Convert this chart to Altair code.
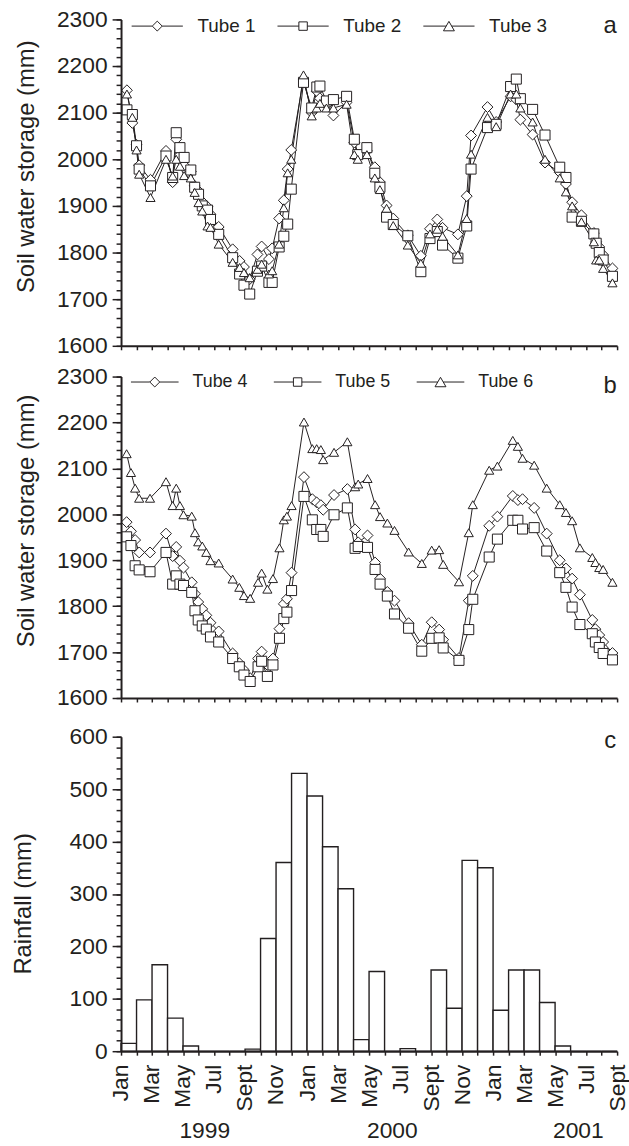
import json
import altair as alt
import pandas as pd

# ---------------- data (x = months since 1 Jan 1999) ----------------
t_a = [0.38, 0.73, 1.0, 1.17, 1.9, 2.9, 3.33, 3.56, 3.8, 4.07,
       4.5, 4.75, 5.0, 5.24, 5.58, 5.77, 6.3, 7.2, 7.65, 7.93,
       8.3, 8.8, 9.07, 9.54, 9.75, 10.2, 10.5, 10.75, 10.98, 11.77,
       12.3, 12.63, 12.83, 13.25, 13.7, 14.55, 15.05, 15.27, 15.86, 16.37,
       16.7, 17.13, 17.56, 18.5, 19.34, 19.93, 20.4, 20.74, 21.73, 22.3,
       22.58, 23.64, 24.2, 25.13, 25.5, 25.76, 26.55, 27.35, 28.3, 28.7,
       29.1, 29.7, 30.5, 30.65, 30.85, 31.1, 31.7]

tube1 = [2148, 2078, 2031, 1987, 1956, 2018, 1951, 2043, 2009, 1987,
         1974, 1943, 1932, 1909, 1898, 1882, 1855, 1807, 1782, 1769,
         1743, 1796, 1813, 1786, 1809, 1873, 1912, 1979, 2020, 2172,
         2100, 2146, 2131, 2117, 2094, 2122, 2036, 2007, 2018, 1983,
         1951, 1901, 1873, 1837, 1793, 1851, 1871, 1853, 1839, 1921,
         2051, 2112, 2080, 2135, 2128, 2085, 2053, 1993, 1972, 1947,
         1908, 1880, 1842, 1823, 1812, 1795, 1766]

tube2 = [2106, 2096, 2029, 1979, 1943, 2007, 1961, 2057, 2025, 2004,
         1977, 1940, 1925, 1900, 1891, 1871, 1839, 1789, 1754, 1730,
         1711, 1760, 1771, 1736, 1736, 1812, 1835, 1861, 1936, 2165,
         2110, 2155, 2157, 2125, 2128, 2135, 2043, 2010, 2025, 1970,
         1940, 1876, 1860, 1836, 1759, 1830, 1845, 1816, 1788, 1857,
         1979, 2068, 2075, 2156, 2172, 2130, 2107, 2052, 1983, 1961,
         1876, 1867, 1840, 1820, 1800, 1784, 1749]

tube3 = [2140, 2090, 2020, 1968, 1918, 2000, 1964, 2000, 1985, 1965,
         1960, 1929, 1907, 1889, 1857, 1854, 1818, 1779, 1768, 1757,
         1746, 1764, 1775, 1754, 1761, 1818, 1896, 1971, 2000, 2181,
         2093, 2110, 2120, 2110, 2110, 2118, 2010, 2000, 2010, 1960,
         1935, 1895, 1858, 1816, 1777, 1840, 1850, 1835, 1795, 1873,
         2011, 2090, 2070, 2140, 2140, 2110, 2080, 2000, 1960, 1930,
         1900, 1866, 1823, 1784, 1784, 1766, 1735]

t_b = [0.36, 0.64, 0.91, 1.17, 1.87, 2.9, 3.33, 3.56, 3.8, 4.03,
       4.56, 4.77, 4.98, 5.24, 5.5, 5.77, 6.3, 7.2, 7.63, 7.93,
       8.33, 8.84, 9.07, 9.44, 9.8, 10.22, 10.5, 10.7, 11.0, 11.8,
       12.34, 12.62, 12.89, 13.04, 13.74, 14.6, 15.1, 15.3, 15.9, 16.39,
       16.71, 17.18, 17.64, 18.55, 19.4, 20.04, 20.52, 20.78, 21.8, 22.43,
       22.69, 23.75, 24.28, 25.27, 25.6, 25.9, 26.65, 27.46, 28.3, 28.7,
       29.1, 29.6, 30.4, 30.6, 30.85, 31.1, 31.7]

tube4 = [1983, 1963, 1944, 1917, 1917, 1958, 1909, 1929, 1899, 1884,
         1852, 1827, 1809, 1794, 1780, 1764, 1745, 1697, 1676, 1661,
         1643, 1686, 1701, 1672, 1686, 1751, 1805, 1816, 1873, 2081,
         2033, 2026, 2020, 2010, 2042, 2055, 1967, 1939, 1954, 1895,
         1860, 1831, 1812, 1763, 1716, 1765, 1749, 1727, 1687, 1812,
         1866, 1975, 1995, 2040, 2031, 2033, 2014, 1958, 1900, 1882,
         1860, 1825, 1770, 1750, 1737, 1722, 1698]

tube5 = [1951, 1932, 1888, 1879, 1875, 1917, 1848, 1866, 1848, 1845,
         1830, 1790, 1770, 1757, 1750, 1733, 1722, 1686, 1668, 1650,
         1636, 1668, 1680, 1647, 1672, 1730, 1773, 1787, 1834, 2039,
         1988, 1967, 1967, 1952, 1999, 2014, 1926, 1930, 1928, 1880,
         1848, 1822, 1783, 1752, 1702, 1730, 1731, 1709, 1682, 1749,
         1815, 1907, 1946, 1987, 1987, 1968, 1971, 1920, 1873, 1841,
         1798, 1760, 1740, 1722, 1710, 1697, 1683]

tube6 = [2132, 2091, 2057, 2035, 2035, 2071, 2019, 2057, 2019, 1999,
         1996, 1960, 1940, 1931, 1917, 1899, 1894, 1859, 1841, 1823,
         1817, 1852, 1872, 1837, 1860, 1927, 1988, 1996, 2019, 2201,
         2143, 2143, 2141, 2119, 2135, 2158, 2060, 2066, 2078, 2021,
         1995, 1981, 1965, 1918, 1893, 1922, 1923, 1891, 1853, 1960,
         2021, 2096, 2105, 2161, 2148, 2122, 2107, 2057, 2021, 2004,
         1986, 1927, 1906, 1895, 1884, 1880, 1852]

names_a = ["Tube 1", "Tube 2", "Tube 3"]
names_b = ["Tube 4", "Tube 5", "Tube 6"]

rain_month = list(range(32))
rainfall = [15, 98, 165, 63, 10, 0, 0, 0, 4, 215, 360, 530,
            487, 390, 310, 22, 152, 0, 5, 0, 155, 82, 364, 350,
            78, 155, 155, 93, 10, 0, 0, 0]

month_labels = ["Jan", "Mar", "May", "Jul", "Sept", "Nov",
                "Jan", "Mar", "May", "Jul", "Sept", "Nov",
                "Jan", "Mar", "May", "Jul", "Sept"]
years = ["1999", "2000", "2001"]
year_pos = [5.4, 17.5, 29.5]

# ---------------- styling ----------------
FONT = "Liberation Sans"
INK = "#231f20"
W = 500
x_ticks = list(range(0, 33))
x_scale = alt.Scale(domain=[0, 32], nice=False, zero=False)
label_expr = "datum.value % 2 == 0 ? " + json.dumps(month_labels) + "[datum.value / 2] : ''"


def long_df(t, names, series):
    rows = []
    for name, vals in zip(names, series):
        for tt, v in zip(t, vals):
            rows.append({"t": tt, "v": v, "tube": name})
    return pd.DataFrame(rows)


def legend_paths(half):
    h = str(half)
    return [
        f"M-{h},0L-1,0M1,0L{h},0M-1,0L0,-1L1,0L0,1Z",
        f"M-{h},0L-0.85,0M0.85,0L{h},0M-0.85,-0.85L0.85,-0.85L0.85,0.85L-0.85,0.85Z",
        f"M-{h},0L-0.55,0M0.55,0L{h},0M0,-0.95L1.1,0.95L-1.1,0.95Z",
    ]


def ab_x_axis():
    return alt.Axis(values=x_ticks, labels=False, title=None, tickSize=4,
                    grid=False, zindex=1)


def tube_panel(t, names, series, height, title_y, letter, letter_y,
               lg_x, lg_y, lg_font, lg_offset, lg_pad, lg_half):
    df = long_df(t, names, series)
    yscale = alt.Scale(domain=[1600, 2300], nice=False, zero=False)
    y_major = alt.Axis(values=list(range(1600, 2301, 100)), format="d", tickSize=9,
                       labelPadding=5, title="Soil water storage (mm)",
                       titleX=-95, titleY=title_y, titleAngle=270,
                       titleAlign="center", titleBaseline="middle",
                       orient="left", grid=False, zindex=1)
    y_minor = alt.Axis(values=list(range(1600, 2301, 20)), tickSize=5,
                       labels=False, domain=False, title=None,
                       orient="left", grid=False, zindex=1)
    lines = alt.Chart(df).mark_line(color=INK, strokeWidth=1).encode(
        x=alt.X("t:Q", scale=x_scale, axis=ab_x_axis()),
        y=alt.Y("v:Q", scale=yscale, axis=y_major),
        detail="tube:N",
    )
    points = alt.Chart(df).mark_point(
        filled=True, fill="white", stroke=INK, strokeWidth=1, opacity=1
    ).encode(
        x=alt.X("t:Q", axis=ab_x_axis()),
        y=alt.Y("v:Q", axis=y_minor),
        shape=alt.Shape("tube:N", scale=alt.Scale(domain=names,
                        range=["diamond", "square", "triangle-up"]), legend=None),
        size=alt.Size("tube:O", scale=alt.Scale(domain=names, range=[120, 85, 125]),
                      legend=None),
    )
    legend_layer = alt.Chart(df).transform_filter("false").mark_point(
        filled=False, color=INK, strokeWidth=1, opacity=1
    ).encode(
        x=alt.X("t:Q", axis=ab_x_axis()),
        y=alt.Y("v:Q", axis=None),
        shape=alt.Shape("tube:N", scale=alt.Scale(domain=names, range=legend_paths(lg_half)),
                        legend=alt.Legend(
                            title=None, orient="none", direction="horizontal",
                            legendX=lg_x, legendY=lg_y, padding=0,
                            labelFont=FONT, labelFontSize=lg_font, labelColor=INK,
                            labelOffset=lg_offset, columnPadding=lg_pad,
                            symbolSize=100, symbolStrokeWidth=1,
                            symbolStrokeColor=INK, symbolOpacity=1,
                        )),
    )
    tag = alt.Chart(pd.DataFrame({"lab": [letter]})).mark_text(
        font=FONT, fontSize=24, color=INK, baseline="middle", align="center"
    ).encode(text="lab:N", x=alt.value(493), y=alt.value(letter_y))
    return alt.layer(lines, points, legend_layer, tag).resolve_scale(
        shape="independent", size="independent"
    ).resolve_axis(y="independent").resolve_legend(shape="independent").properties(
        width=W, height=height)


panel_a = tube_panel(t_a, names_a, [tube1, tube2, tube3], 329, 148, "a", 7,
                     27, -3, 19, 31, 19, 5.16)
panel_b = tube_panel(t_b, names_b, [tube4, tube5, tube6], 324, 145, "b", 10,
                     25, -3.5, 18, 29, 24, 4.8)

# ---------------- rainfall panel ----------------
rain_df = pd.DataFrame({"m": rain_month, "rain": rainfall})
HC = 325
rscale = alt.Scale(domain=[0, 600], nice=False, zero=True, range=[HC, 8])


def c_x_axis():
    return alt.Axis(values=x_ticks, labelExpr=label_expr, labelAngle=-90,
                    labelOverlap=False, labelFlush=False, labelPadding=9,
                    tickSize=4, title=None, grid=False, zindex=1)


bars = alt.Chart(rain_df).transform_calculate(m2="datum.m + 1").mark_bar(
    fill="white", stroke=INK, strokeWidth=1.4
).encode(
    x=alt.X("m:Q", scale=x_scale, axis=c_x_axis()),
    x2="m2:Q",
    y=alt.Y("rain:Q", scale=rscale,
            axis=alt.Axis(values=list(range(0, 601, 100)), format="d", tickSize=9,
                          labelPadding=5,
                          title="Rainfall (mm)", titleX=-98, titleY=176,
                          titleAngle=270, titleAlign="center", titleBaseline="middle",
                          orient="left", grid=False, zindex=1)),
    y2=alt.datum(0),
)
bars_minor = alt.Chart(rain_df).transform_calculate(m2="datum.m + 1").mark_bar(
    opacity=0
).encode(
    x=alt.X("m:Q", axis=c_x_axis()),
    x2="m2:Q",
    y=alt.Y("rain:Q", axis=alt.Axis(values=list(range(0, 601, 20)), tickSize=5,
                                     labels=False, domain=False, title=None,
                                     orient="left", grid=False, zindex=1)),
    y2=alt.datum(0),
)
year_text = alt.Chart(pd.DataFrame({"year": years, "pos": year_pos})).mark_text(
    font=FONT, fontSize=23, color=INK, baseline="middle", align="center"
).encode(x=alt.X("pos:Q", axis=c_x_axis()), y=alt.value(405), text="year:N")
tag_c = alt.Chart(pd.DataFrame({"lab": ["c"]})).mark_text(
    font=FONT, fontSize=24, color=INK, baseline="middle", align="center"
).encode(text="lab:N", x=alt.value(493), y=alt.value(12))

panel_c = alt.layer(bars, bars_minor, year_text, tag_c).resolve_axis(
    y="independent").properties(width=W, height=HC)

chart = alt.vconcat(panel_a, panel_b, panel_c, spacing=31, bounds="flush").properties(
    padding={"left": 12, "top": 4, "right": 0, "bottom": 0},
    background="white",
).configure_view(stroke=None).configure_axis(
    labelFont=FONT, titleFont=FONT, labelFontSize=23, titleFontSize=24,
    labelColor=INK, titleColor=INK, domainColor=INK, tickColor=INK,
    domainWidth=2, tickWidth=1.5, titleFontWeight="normal",
)

chart.save("out.html", embed_options={"renderer": "svg", "actions": False})
